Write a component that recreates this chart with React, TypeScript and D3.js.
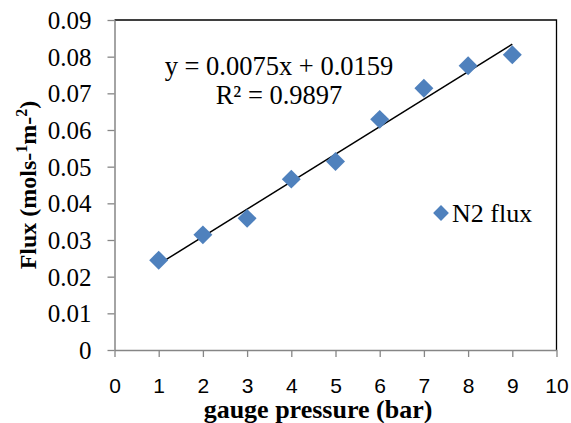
import { useEffect, useRef } from 'react';
import * as d3 from 'd3';

const pressures = [1, 2, 3, 4, 5, 6, 7, 8, 9];
const fluxValues = [0.0245, 0.0314, 0.0359, 0.0466, 0.0514, 0.0629, 0.0714, 0.0775, 0.0805];
const xTicks = [0, 1, 2, 3, 4, 5, 6, 7, 8, 9, 10];
const yTicks = [0, 0.01, 0.02, 0.03, 0.04, 0.05, 0.06, 0.07, 0.08, 0.09];
const trendSlope = 0.0075;
const trendIntercept = 0.0159;
const rSquared = 0.9897;
const seriesName = 'N2 flux';

const serif = '"Liberation Serif", "Times New Roman", serif';

export default function App() {
	const svgRef = useRef(null);
	const width = 571;
	const height = 423;
	const left = 114.5;
	const right = 556.5;
	const top = 20;
	const bottom = 350;

	useEffect(() => {
		const svg = d3.select(svgRef.current);
		svg.selectAll('*').remove();

		const x = d3.scaleLinear().domain([0, 10]).range([left, right]);
		const y = d3.scaleLinear().domain([0, 0.09]).range([bottom, top]);

		// frame: top + right black
		svg.append('path')
			.attr('d', `M${left},${top}H${right}V${bottom}`)
			.attr('fill', 'none')
			.attr('stroke', '#000')
			.attr('stroke-width', 1.3);

		const yAxis = svg.append('g')
			.attr('transform', `translate(${left},0)`)
			.call(d3.axisLeft(y).tickValues(yTicks).tickSize(7).tickSizeOuter(0)
				.tickFormat(d => (d === 0 ? '0' : d3.format('.2f')(d))));
		yAxis.select('.domain').attr('stroke', '#868686').attr('stroke-width', 1.5);
		yAxis.selectAll('line').attr('stroke', '#868686').attr('stroke-width', 1.3);
		yAxis.selectAll('text')
			.attr('font-family', serif)
			.attr('font-size', 25)
			.attr('fill', '#000')
			.attr('x', -23)
			.attr('dy', '0.34em');

		const xAxis = svg.append('g')
			.attr('transform', `translate(0,${bottom})`)
			.call(d3.axisBottom(x).tickValues(xTicks).tickSize(7).tickSizeOuter(0));
		xAxis.select('.domain').attr('stroke', '#868686').attr('stroke-width', 1.5);
		xAxis.selectAll('line').attr('stroke', '#868686').attr('stroke-width', 1.3);
		xAxis.selectAll('text')
			.attr('font-family', '"Liberation Sans", Arial, sans-serif')
			.attr('font-size', 21)
			.attr('fill', '#000')
			.attr('y', 43)
			.attr('dy', 0);

		// trendline
		const trend = d3.line()
			.x(d => x(d))
			.y(d => y(trendSlope * d + trendIntercept));
		svg.append('path')
			.attr('d', trend([pressures[0], pressures[pressures.length - 1]]))
			.attr('stroke', '#000')
			.attr('stroke-width', 1.5)
			.attr('fill', 'none');

		const diamond = d3.symbol().type(d3.symbolSquare).size(180);
		svg.append('g')
			.selectAll('path')
			.data(pressures)
			.join('path')
			.attr('d', diamond)
			.attr('transform', (d, i) => `translate(${x(d)},${y(fluxValues[i])}) rotate(45)`)
			.attr('fill', '#4f81bd');

		// equation
		const eq = svg.append('g')
			.attr('font-family', serif)
			.attr('font-size', 26.5)
			.attr('text-anchor', 'middle');
		eq.append('text').attr('x', 279).attr('y', 75)
			.text(`y = ${trendSlope}x + ${trendIntercept}`);
		eq.append('text').attr('x', 279).attr('y', 104).text(`R² = ${rSquared}`);

		// legend
		svg.append('path')
			.attr('d', d3.symbol().type(d3.symbolSquare).size(125))
			.attr('transform', 'translate(441,213) rotate(45)')
			.attr('fill', '#4f81bd');
		svg.append('text')
			.attr('x', 452)
			.attr('y', 221.5)
			.attr('font-family', serif)
			.attr('font-size', 26)
			.text(seriesName);

		// axis titles
		svg.append('text')
			.attr('x', 318)
			.attr('y', 418)
			.attr('text-anchor', 'middle')
			.attr('font-family', serif)
			.attr('font-weight', 'bold')
			.attr('font-size', 26)
			.text('gauge pressure (bar)');

		const yt = svg.append('text')
			.attr('transform', `translate(36,${(top + bottom) / 2}) rotate(-90)`)
			.attr('text-anchor', 'middle')
			.attr('font-family', serif)
			.attr('font-weight', 'bold')
			.attr('font-size', 24);
		yt.append('tspan').text('Flux (mols-');
		yt.append('tspan').attr('font-size', 16).attr('dy', -9).text('1');
		yt.append('tspan').attr('dy', 9).text('m-');
		yt.append('tspan').attr('font-size', 16).attr('dy', -9).text('2');
		yt.append('tspan').attr('dy', 9).text(')');
	}, []);

	return (
		<svg
			ref={svgRef}
			width={width}
			height={height}
			style={{ position: 'absolute', left: 0, top: 0, background: '#fff' }}
		/>
	);
}
